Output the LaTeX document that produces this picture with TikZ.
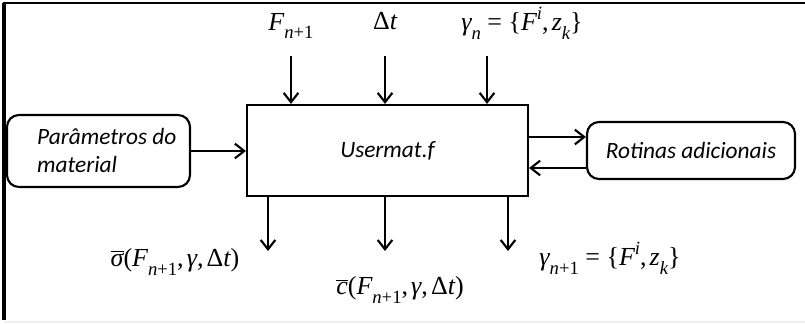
\documentclass[tikz,border=0pt]{standalone}
\usepackage{fontspec}
\setmainfont{Liberation Serif}
\newfontfamily\calibrifont{Carlito}
\usetikzlibrary{arrows.meta}
\newcommand{\mi}[1]{{\itshape #1}}
\newcommand{\lo}[1]{\raisebox{-0.33em}{\fontsize{14pt}{14pt}\selectfont #1}}
\newcommand{\hi}[1]{\raisebox{0.45em}{\fontsize{14pt}{14pt}\selectfont #1}}
\newcommand{\ob}[1]{\ensuremath{\overline{\hbox{#1}}}}
\newcommand{\cm}{,\hspace{0.12em}}
\begin{document}
\begin{tikzpicture}[x=0.75pt,y=-0.75pt,
  txt/.style={inner sep=0pt,font=\calibrifont\itshape\fontsize{17.5pt}{21pt}\selectfont},
  box/.style={txt,draw,line width=1.6pt},
  rbox/.style={box,rounded corners=9pt},
  lbl/.style={inner sep=0pt,font=\fontsize{19.5pt}{22pt}\selectfont},
  arr/.style={line width=1.8pt,-{Straight Barb[length=7pt,width=11pt,line width=1.6pt]}}]
\useasboundingbox (0,0) rectangle (805,324);
% frame
\draw[line width=2.2pt] (3,3) -- (805,3);
\draw[line width=2.4pt] (4,3) -- (4,320);
\draw[gray!12,line width=1pt] (4,322) -- (805,322);
% boxes
\node[box,minimum width={281*0.75pt},minimum height={91*0.75pt}] (main) at (387.5,150.5) {Usermat.f};
\node[rbox,minimum width={183*0.75pt},minimum height={72*0.75pt}] (par) at (98.5,151) {};
\node[txt,anchor=west,align=left] (partxt) at ([xshift={31*0.75pt},yshift={1*0.75pt}]par.west) {Parâmetros do\\material};
\node[rbox,minimum width={208*0.75pt},minimum height={57*0.75pt}] (rot) at (691,150.5) {Rotinas adicionais};
% top labels
\node[lbl] (fin) at (291,26) {\mi{F}\lo{\mi{n}+1}};
\node[lbl] (dt) at (385,21) {Δ\mi{t}};
\node[lbl] (gn) at (522,23) {\mi{γ}\lo{\mi{n}} = \{\mi{F}\hi{\mi{i}}\cm\mi{z}\lo{\mi{k}}\}};
\coordinate (a1) at (291,56);
\coordinate (a2) at (385,56);
\coordinate (a3) at (487,56);
\draw[arr] (a1) -- (a1 |- main.north);
\draw[arr] (a2) -- (a2 |- main.north);
\draw[arr] (a3) -- (a3 |- main.north);
% side arrows
\draw[arr] (par.east) -- (main.west |- par.east);
\coordinate (r1) at (0,137);
\coordinate (r2) at (0,168);
\draw[arr] (main.east |- r1) -- (rot.west |- r1);
\draw[arr] (rot.west |- r2) -- (main.east |- r2);
% bottom arrows
\coordinate (b1) at (268,251);
\coordinate (b2) at (385,251);
\coordinate (b3) at (508,251);
\draw[arr] (b1 |- main.south) -- (b1);
\draw[arr] (b2 |- main.south) -- (b2);
\draw[arr] (b3 |- main.south) -- (b3);
% bottom labels
\node[lbl] (sig) at (175,262) {\ob{\mi{σ}}(\mi{F}\lo{\mi{n}+1}\cm\mi{γ}\cm Δ\mi{t})};
\node[lbl] (cc) at (400,290) {\ob{\mi{c}}(\mi{F}\lo{\mi{n}+1}\cm\mi{γ}\cm Δ\mi{t})};
\node[lbl] (gn1) at (610,258) {\mi{γ}\lo{\mi{n}+1} = \{\mi{F}\hi{\mi{i}}\cm\mi{z}\lo{\mi{k}}\}};
\end{tikzpicture}
\end{document}
